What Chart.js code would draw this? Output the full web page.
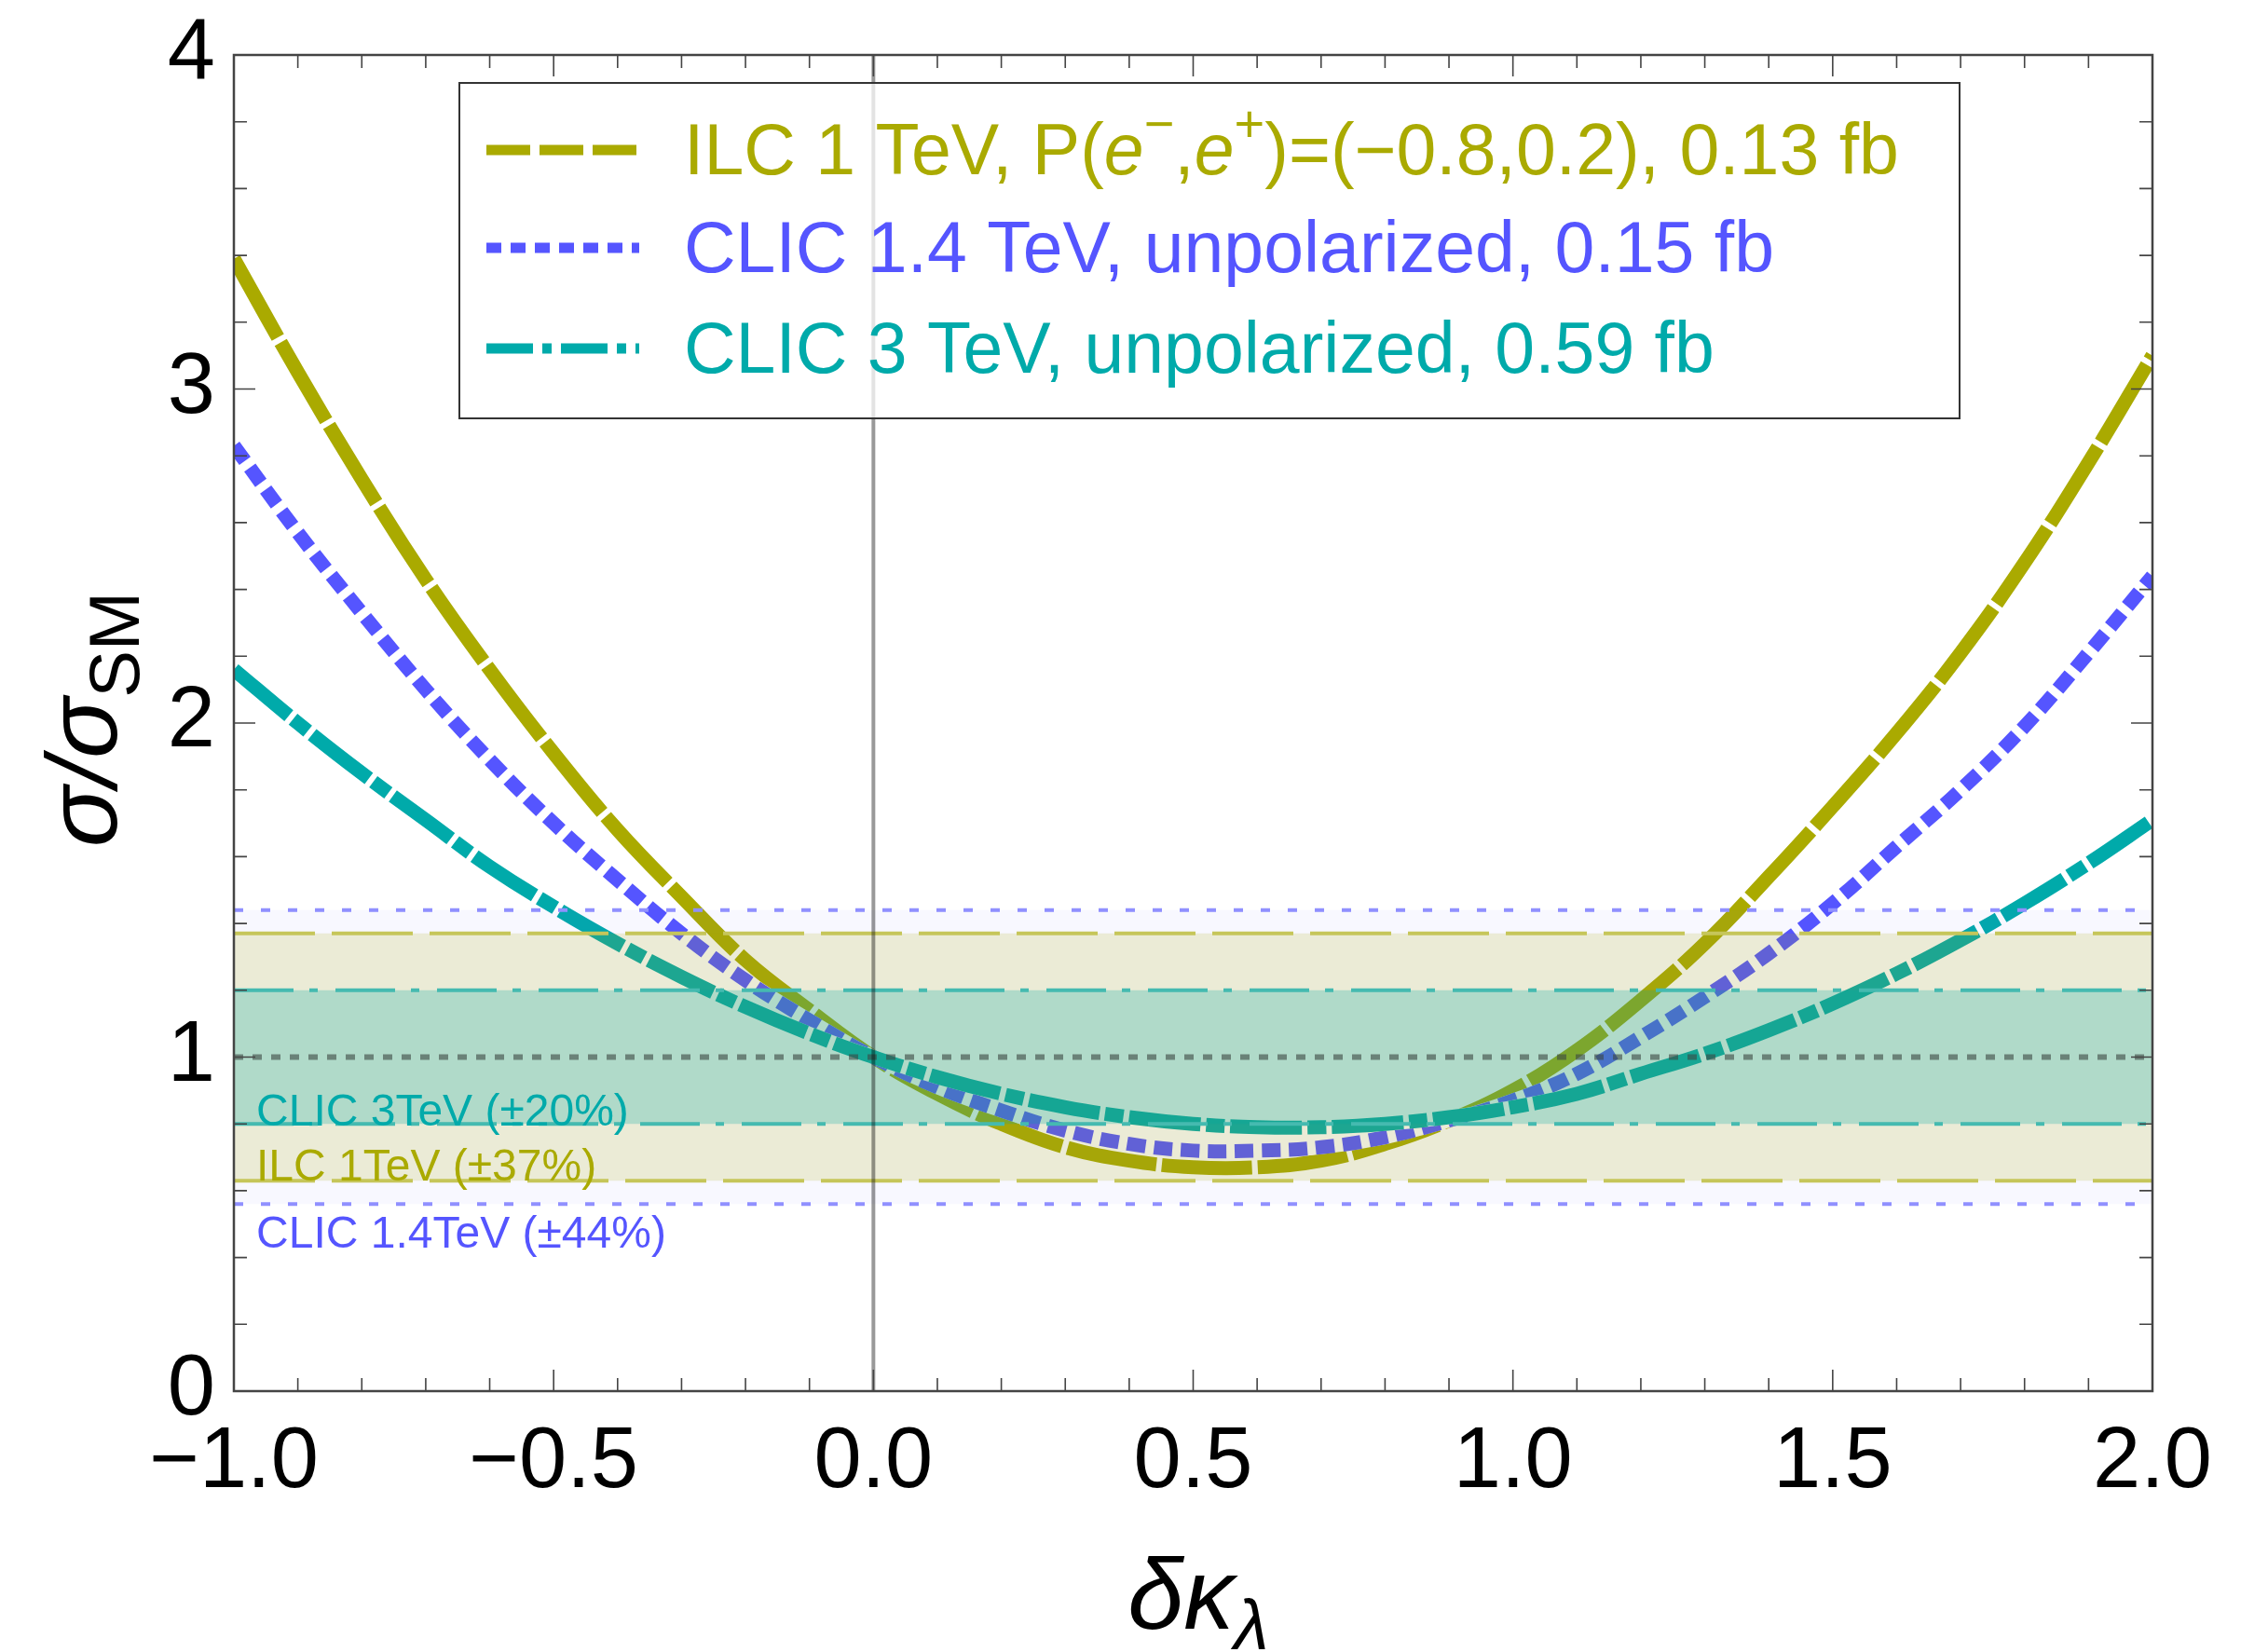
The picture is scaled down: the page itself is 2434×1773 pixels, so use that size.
<!DOCTYPE html>
<html>
<head>
<meta charset="utf-8">
<script src="https://cdn.jsdelivr.net/npm/chart.js@4.4.0/dist/chart.umd.min.js"></script>
<style>
  html, body { margin: 0; padding: 0; background: #fff; }
</style>
</head>
<body>
<canvas id="kappaChart" width="2434" height="1773"></canvas>
<script>
// delta kappa_lambda grid and sigma/sigma_SM
var dk = [-1.0, -0.9, -0.8, -0.7, -0.6, -0.5, -0.4, -0.3, -0.2, -0.1, 0.0,
  0.1, 0.2, 0.3, 0.4, 0.5, 0.6, 0.7, 0.8, 0.9, 1.0,
  1.1, 1.2, 1.3, 1.4, 1.5, 1.6, 1.7, 1.8, 1.9, 2.0];
var ilc1TeV = [3.39, 3.05, 2.73, 2.43, 2.16, 1.91, 1.68, 1.48, 1.29, 1.14, 1.00,
  0.89, 0.80, 0.73, 0.69, 0.67, 0.67, 0.69, 0.74, 0.81, 0.90,
  1.02, 1.17, 1.34, 1.54, 1.75, 1.97, 2.21, 2.48, 2.78, 3.10];
var clic14TeV = [2.83, 2.57, 2.33, 2.10, 1.89, 1.70, 1.53, 1.37, 1.23, 1.11, 1.00,
  0.91, 0.84, 0.78, 0.74, 0.72, 0.72, 0.73, 0.76, 0.81, 0.87,
  0.95, 1.06, 1.18, 1.31, 1.46, 1.63, 1.80, 1.99, 2.21, 2.44];
var clic3TeV = [2.16, 2.00, 1.85, 1.71, 1.57, 1.45, 1.34, 1.24, 1.15, 1.07, 1.00,
  0.94, 0.89, 0.85, 0.82, 0.80, 0.79, 0.79, 0.80, 0.82, 0.85,
  0.89, 0.95, 1.01, 1.08, 1.16, 1.25, 1.35, 1.46, 1.58, 1.71];

// precision bands around the SM value (+- fraction)
var bandNames = ["CLIC 1.4TeV (\u00b144%)", "ILC 1TeV (\u00b137%)", "CLIC 3TeV (\u00b120%)"];
var bandWidths = [0.44, 0.37, 0.20];
var bandLabelY = [0.43, 0.63, 0.795];

var xRange = [-1.0, 2.0];
var yRange = [0, 4];

var FONT = "'Liberation Sans', Arial, Helvetica, sans-serif";
var OLIVE = "#aaaa00", BLUE = "#5555ff", TEAL = "#00aaaa";

function pts(ys) {
  return dk.map(function(x, i) { return { x: x, y: ys[i] }; });
}
function flat(y) {
  return [{ x: xRange[0], y: y }, { x: xRange[1], y: y }];
}

var datasets = [];

function addCurve(ys, color, dash, order) {
  // white line under the dashes so the gaps read as white
  datasets.push({ data: pts(ys), borderColor: "#ffffff", borderWidth: 15, tension: 0.4,
    pointRadius: 0, fill: false, order: order + 1, clip: 0, borderCapStyle: "butt" });
  datasets.push({ data: pts(ys), borderColor: color, borderWidth: 15, borderDash: dash, tension: 0.4,
    pointRadius: 0, fill: false, order: order, clip: 0, borderCapStyle: "butt" });
}
addCurve(ilc1TeV, OLIVE, [97, 6], 20);
addCurve(clic14TeV, BLUE, [20, 9], 17);
addCurve(clic3TeV, TEAL, [77, 6, 20, 6], 14);

var bandStyle = [
  { line: "#9090ff", dash: [10, 19], fill: "rgba(85,85,255,0.04)", order: 8 },
  { line: "#c6c65a", dash: [87, 18], fill: "rgba(170,170,0,0.16)", order: 7 },
  { line: "#45bab0", dash: [64, 17, 9, 19], fill: "rgba(0,168,160,0.25)", order: 6 }
];
bandWidths.forEach(function(w, i) {
  var s = bandStyle[i];
  var upper = datasets.length;
  datasets.push({ data: flat(1 + w), borderColor: s.line, borderWidth: 4, borderDash: s.dash,
    pointRadius: 0, fill: false, order: s.order, clip: 0 });
  datasets.push({ data: flat(1 - w), borderColor: s.line, borderWidth: 4, borderDash: s.dash,
    pointRadius: 0, fill: upper, backgroundColor: s.fill, order: s.order, clip: 0 });
});

// SM line and dk = 0 line
datasets.push({ data: flat(1), borderColor: "rgba(60,72,66,0.6)", borderWidth: 6, borderDash: [10, 10],
  pointRadius: 0, fill: false, order: 2, clip: 0 });
datasets.push({ data: [{ x: 0, y: yRange[0] }, { x: 0, y: yRange[1] }], borderColor: "rgba(0,0,0,0.4)",
  borderWidth: 4, pointRadius: 0, fill: false, order: 1 });

function rich(ctx, x, y, parts) {
  parts.forEach(function(p) {
    ctx.font = p.f;
    ctx.fillText(p.t, x, y + (p.dy || 0));
    x += ctx.measureText(p.t).width;
  });
  return x;
}

var decorations = {
  id: "decorations",
  afterDatasetsDraw: function(chart) {
    var ctx = chart.ctx, xs = chart.scales.x, ys = chart.scales.y;
    ctx.save();
    // band labels
    var labelColors = [BLUE, OLIVE, TEAL];
    ctx.font = "48px " + FONT;
    ctx.textAlign = "left";
    ctx.textBaseline = "alphabetic";
    bandNames.forEach(function(name, i) {
      ctx.fillStyle = labelColors[i];
      ctx.fillText(name, xs.getPixelForValue(-0.965), ys.getPixelForValue(bandLabelY[i]));
    });

    // legend
    ctx.fillStyle = "rgba(255,255,255,0.72)";
    ctx.fillRect(493, 89, 1610, 360);
    ctx.strokeStyle = "#333";
    ctx.lineWidth = 2;
    ctx.strokeRect(493, 89, 1610, 360);

    var rows = [
      { c: OLIVE, dash: [47, 10], y: 187 },
      { c: BLUE, dash: [16, 10], y: 292 },
      { c: TEAL, dash: [50, 10, 10, 10], y: 400 }
    ];
    rows.forEach(function(r) {
      ctx.strokeStyle = r.c;
      ctx.lineWidth = 11;
      ctx.lineCap = "butt";
      ctx.setLineDash(r.dash);
      ctx.beginPath();
      ctx.moveTo(522, r.y - 26);
      ctx.lineTo(686, r.y - 26);
      ctx.stroke();
    });
    ctx.setLineDash([]);
    var f = "77px " + FONT, fi = "italic 77px " + FONT, fs = "56px " + FONT;
    ctx.fillStyle = OLIVE;
    rich(ctx, 734, 187, [
      { t: "ILC 1 TeV, P(", f: f }, { t: "e", f: fi }, { t: "\u2212", f: fs, dy: -35 },
      { t: ",", f: f }, { t: "e", f: fi }, { t: "+", f: fs, dy: -35 },
      { t: ")=(\u22120.8,0.2), 0.13 fb", f: f }
    ]);
    ctx.fillStyle = BLUE;
    rich(ctx, 734, 292, [{ t: "CLIC 1.4 TeV, unpolarized, 0.15 fb", f: f }]);
    ctx.fillStyle = TEAL;
    rich(ctx, 734, 400, [{ t: "CLIC 3 TeV, unpolarized, 0.59 fb", f: f }]);
    ctx.restore();
  },
  afterDraw: function(chart) {
    var ctx = chart.ctx, a = chart.chartArea, xs = chart.scales.x, ys = chart.scales.y;
    ctx.save();
    ctx.strokeStyle = "#444";
    ctx.lineWidth = 1.6;
    var i, p, len;
    for (i = -10; i <= 20; i++) {
      p = xs.getPixelForValue(i / 10);
      len = (i % 5 === 0) ? 23 : 14;
      ctx.beginPath();
      ctx.moveTo(p, a.bottom); ctx.lineTo(p, a.bottom - len);
      ctx.moveTo(p, a.top); ctx.lineTo(p, a.top + len);
      ctx.stroke();
    }
    for (i = 0; i <= 20; i++) {
      p = ys.getPixelForValue(i / 5);
      len = (i % 5 === 0) ? 23 : 14;
      ctx.beginPath();
      ctx.moveTo(a.left, p); ctx.lineTo(a.left + len, p);
      ctx.moveTo(a.right, p); ctx.lineTo(a.right - len, p);
      ctx.stroke();
    }
    ctx.lineWidth = 2.5;
    ctx.strokeRect(a.left, a.top, a.right - a.left, a.bottom - a.top);

    // axis titles
    ctx.fillStyle = "#000";
    ctx.textBaseline = "alphabetic";
    ctx.textAlign = "left";
    var big = "italic 108px " + FONT, sub = "76px " + FONT, subI = "italic 76px " + FONT;
    ctx.font = big; var w1 = ctx.measureText("\u03c3/\u03c3").width;
    ctx.font = sub; var w2 = ctx.measureText("SM").width;
    ctx.translate(125, 772);
    ctx.rotate(-Math.PI / 2);
    rich(ctx, -(w1 + w2) / 2, 0, [{ t: "\u03c3/\u03c3", f: big }, { t: "SM", f: sub, dy: 24 }]);
    ctx.setTransform(1, 0, 0, 1, 0, 0);
    ctx.font = big; w1 = ctx.measureText("\u03b4\u03ba").width;
    ctx.font = subI; w2 = ctx.measureText("\u03bb").width;
    rich(ctx, 1286 - (w1 + w2) / 2, 1748, [{ t: "\u03b4\u03ba", f: big }, { t: "\u03bb", f: subI, dy: 22 }]);
    ctx.restore();
  }
};

new Chart(document.getElementById("kappaChart").getContext("2d"), {
  type: "line",
  data: { datasets: datasets },
  options: {
    responsive: false,
    animation: false,
    layout: { padding: { top: 59, right: 124, left: 0, bottom: 0 } },
    plugins: { legend: { display: false }, tooltip: { enabled: false } },
    scales: {
      x: {
        type: "linear", min: xRange[0], max: xRange[1],
        grid: { display: false, drawTicks: false }, border: { display: false },
        ticks: {
          stepSize: 0.5, autoSkip: false, maxRotation: 0, padding: 22, color: "#000",
          font: { family: FONT, size: 92 },
          callback: function(v) { return v.toFixed(1).replace("-", "\u2212"); }
        },
        afterFit: function(s) { s.height = 280; s.paddingLeft = 0; s.paddingRight = 0; }
      },
      y: {
        min: yRange[0], max: yRange[1],
        grid: { display: false, drawTicks: false }, border: { display: false },
        ticks: { stepSize: 1, padding: 20, color: "#000", font: { family: FONT, size: 92 } },
        afterFit: function(s) { s.width = 251; s.paddingTop = 0; s.paddingBottom = 0; }
      }
    }
  },
  plugins: [decorations]
});
</script>
</body>
</html>
